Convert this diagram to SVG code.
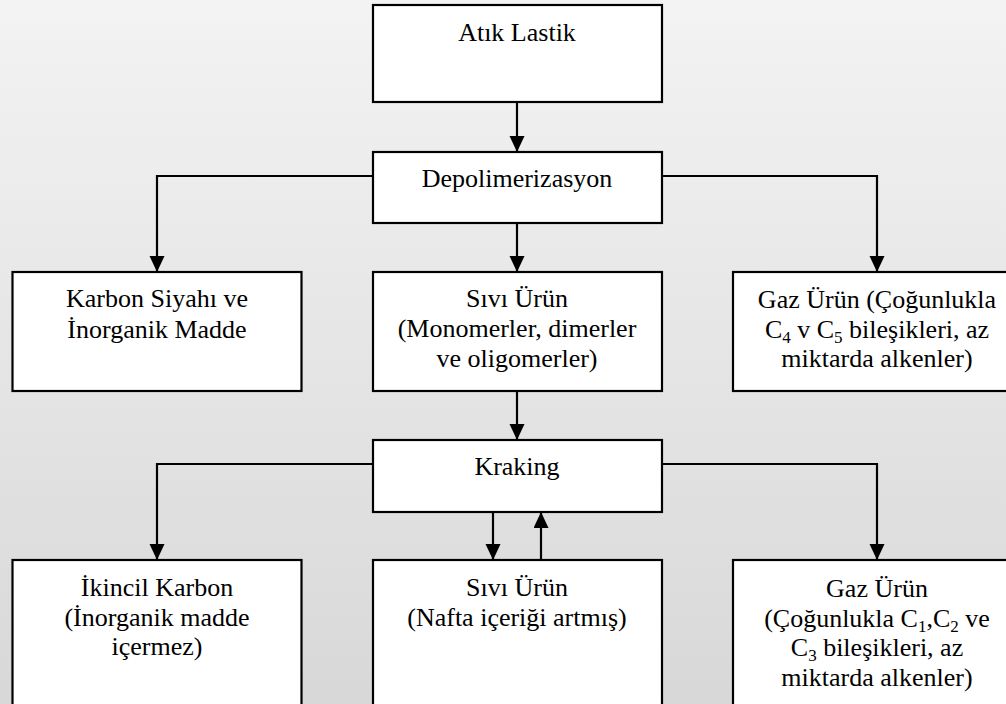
<svg xmlns="http://www.w3.org/2000/svg" width="1006" height="704" viewBox="0 0 1006 704">
<defs>
<linearGradient id="bg" x1="0" y1="0" x2="0" y2="1">
<stop offset="0" stop-color="#f3f3f3"/>
<stop offset="1" stop-color="#d8d8d8"/>
</linearGradient>
<marker id="arr" markerUnits="userSpaceOnUse" markerWidth="16" markerHeight="16" refX="16" refY="7.5" orient="auto">
<path d="M0,0 L16,7.5 L0,15 z" fill="#000"/>
</marker>
<style>
.box{fill:#fff;stroke:#000;stroke-width:2.2}
.t{font-size:26px;fill:#000;text-anchor:middle}
.c{fill:none;stroke:#000;stroke-width:2.2;marker-end:url(#arr)}
.s{font-size:17px}
</style>
</defs>
<rect x="0" y="0" width="1006" height="704" fill="url(#bg)"/>
<g id="connectors">
<path class="c" d="M517,102 V152"/>
<path class="c" d="M373,176 H157 V272"/>
<path class="c" d="M517,223 V272"/>
<path class="c" d="M662,176 H877 V272"/>
<path class="c" d="M517,391 V440"/>
<path class="c" d="M373,464 H157 V560"/>
<path class="c" d="M662,464 H877 V560"/>
<path class="c" d="M493,512 V560"/>
<path class="c" d="M541,560 V512"/>
</g>
<g font-family="'Liberation Serif', serif">
<g id="atik-lastik">
<rect class="box" x="373" y="5" width="289" height="97"/>
<text class="t" x="517" y="41">Atık Lastik</text>
</g>
<g id="depolimerizasyon">
<rect class="box" x="373" y="152" width="289" height="71"/>
<text class="t" x="517" y="187">Depolimerizasyon</text>
</g>
<g id="karbon-siyahi">
<rect class="box" x="12.5" y="272" width="289" height="119"/>
<text class="t" x="157" y="307">Karbon Siyahı ve</text>
<text class="t" x="157" y="337.5">İnorganik Madde</text>
</g>
<g id="sivi-urun-1">
<rect class="box" x="373" y="272" width="289" height="119"/>
<text class="t" x="517" y="307">Sıvı Ürün</text>
<text class="t" x="517" y="337">(Monomerler, dimerler</text>
<text class="t" x="517" y="366.5">ve oligomerler)</text>
</g>
<g id="gaz-urun-1">
<rect class="box" x="733" y="272" width="289" height="119"/>
<text class="t" x="877" y="308">Gaz Ürün (Çoğunlukla</text>
<text class="t" x="877" y="338">C<tspan class="s" baseline-shift="-5">4</tspan> v C<tspan class="s" baseline-shift="-5">5</tspan> bileşikleri, az</text>
<text class="t" x="877" y="367">miktarda alkenler)</text>
</g>
<g id="kraking">
<rect class="box" x="373" y="440" width="289" height="72"/>
<text class="t" x="517" y="475">Kraking</text>
</g>
<g id="ikincil-karbon">
<rect class="box" x="12.5" y="560" width="289" height="150"/>
<text class="t" x="157" y="596">İkincil Karbon</text>
<text class="t" x="157" y="626">(İnorganik madde</text>
<text class="t" x="157" y="655">içermez)</text>
</g>
<g id="sivi-urun-2">
<rect class="box" x="373" y="560" width="289" height="150"/>
<text class="t" x="517" y="596">Sıvı Ürün</text>
<text class="t" x="517" y="626">(Nafta içeriği artmış)</text>
</g>
<g id="gaz-urun-2">
<rect class="box" x="733" y="560" width="289" height="150"/>
<text class="t" x="877" y="596.5">Gaz Ürün</text>
<text class="t" x="877" y="626.5">(Çoğunlukla C<tspan class="s" baseline-shift="-5">1</tspan>,C<tspan class="s" baseline-shift="-5">2</tspan> ve</text>
<text class="t" x="877" y="656">C<tspan class="s" baseline-shift="-5">3</tspan> bileşikleri, az</text>
<text class="t" x="877" y="686">miktarda alkenler)</text>
</g>
</g>
</svg>
